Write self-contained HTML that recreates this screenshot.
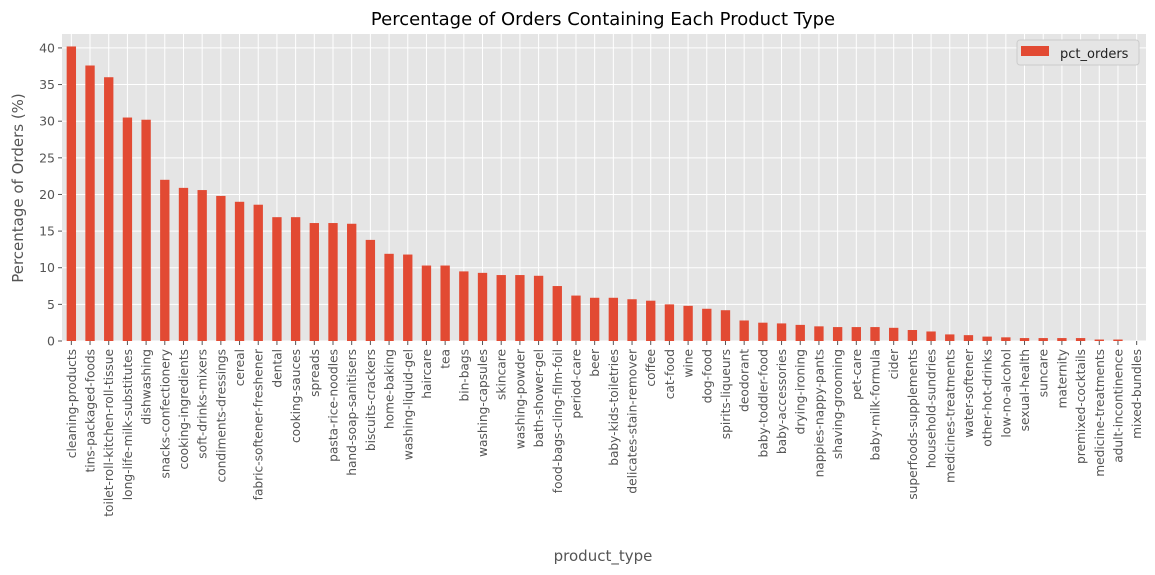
<!DOCTYPE html>
<html><head><meta charset="utf-8"><style>
body{margin:0;background:#fff}
svg{display:block;font-family:"DejaVu Sans","Liberation Sans",sans-serif}
</style></head><body>
<svg id="chart" width="1155" height="575">
<rect x="62" y="34" width="1084" height="307" fill="#e5e5e5"/>
<g id="grid"></g><g id="bars"></g><g id="xticks"></g><g id="yticks"></g>
<text x="603" y="25" text-anchor="middle" font-size="18" fill="#000">Percentage of Orders Containing Each Product Type</text>
<text x="603" y="561" text-anchor="middle" font-size="15" fill="#555">product_type</text>
<text transform="translate(23,188) rotate(-90)" text-anchor="middle" font-size="15" fill="#555">Percentage of Orders (%)</text>
<g>
<rect x="1017" y="40" width="122" height="25" rx="3" fill="#e5e5e5" stroke="#ccc"/>
<rect x="1021" y="46" width="28" height="10" fill="#E24A33"/>
<text x="1060" y="58" font-size="13" fill="#222">pct_orders</text>
</g>
</svg>
<script>
const categories=["cleaning-products","tins-packaged-foods","toilet-roll-kitchen-roll-tissue","long-life-milk-substitutes","dishwashing","snacks-confectionery","cooking-ingredients","soft-drinks-mixers","condiments-dressings","cereal","fabric-softener-freshener","dental","cooking-sauces","spreads","pasta-rice-noodles","hand-soap-sanitisers","biscuits-crackers","home-baking","washing-liquid-gel","haircare","tea","bin-bags","washing-capsules","skincare","washing-powder","bath-shower-gel","food-bags-cling-film-foil","period-care","beer","baby-kids-toiletries","delicates-stain-remover","coffee","cat-food","wine","dog-food","spirits-liqueurs","deodorant","baby-toddler-food","baby-accessories","drying-ironing","nappies-nappy-pants","shaving-grooming","pet-care","baby-milk-formula","cider","superfoods-supplements","household-sundries","medicines-treatments","water-softener","other-hot-drinks","low-no-alcohol","sexual-health","suncare","maternity","premixed-cocktails","medicine-treatments","adult-incontinence","mixed-bundles"];
const values=[40.2,37.6,36.0,30.5,30.2,22.0,20.9,20.6,19.8,19.0,18.6,16.9,16.9,16.1,16.1,16.0,13.8,11.9,11.8,10.3,10.3,9.5,9.3,9.0,9.0,8.9,7.5,6.2,5.9,5.9,5.7,5.5,5.0,4.8,4.4,4.2,2.8,2.5,2.4,2.2,2.0,1.9,1.9,1.9,1.8,1.5,1.3,0.9,0.8,0.6,0.5,0.4,0.4,0.4,0.4,0.2,0.2,0.0];
const yTicks=[0,5,10,15,20,25,30,35,40];
const NS="http://www.w3.org/2000/svg";
const L=62,R=1146,T=34,B=341;
const yMax=41.9;
const y=v=>B-(v/yMax)*(B-T);
const step=(R-L)/categories.length;
const x=i=>L+step*(i+0.5);
function mk(tag,attrs,parent){const e=document.createElementNS(NS,tag);for(const k in attrs)e.setAttribute(k,attrs[k]);document.getElementById(parent).appendChild(e);return e;}
yTicks.forEach(t=>{
  let g=mk("line",{x1:L,x2:R,y1:y(t),y2:y(t),stroke:"#fff","stroke-width":1},"grid");
  
  
  let tk=mk("line",{x1:L-4,x2:L,y1:y(t),y2:y(t),stroke:"#555"},"yticks");
  
  
  let tx=mk("text",{x:L-7,y:y(t)+4.5,"text-anchor":"end","font-size":12.5,fill:"#555"},"yticks");
  tx.textContent=t;
  
  
});
categories.forEach((c,i)=>{
  let g=mk("line",{x1:x(i),x2:x(i),y1:T,y2:B,stroke:"#fff","stroke-width":1},"grid");
  
  
  const bw=step*0.5;
  let b=mk("rect",{x:x(i)-bw/2,y:y(values[i]),width:bw,height:B-y(values[i]),fill:"#E24A33"},"bars");
  
  
  let tk=mk("line",{x1:x(i),x2:x(i),y1:B,y2:B+4,stroke:"#555"},"xticks");
  
  
  let tx=mk("text",{transform:`translate(${x(i)+4.5},${B+8}) rotate(-90)`,"text-anchor":"end","font-size":12.2,fill:"#555"},"xticks");
  tx.textContent=c;
  
  
});
</script>
</body></html>
